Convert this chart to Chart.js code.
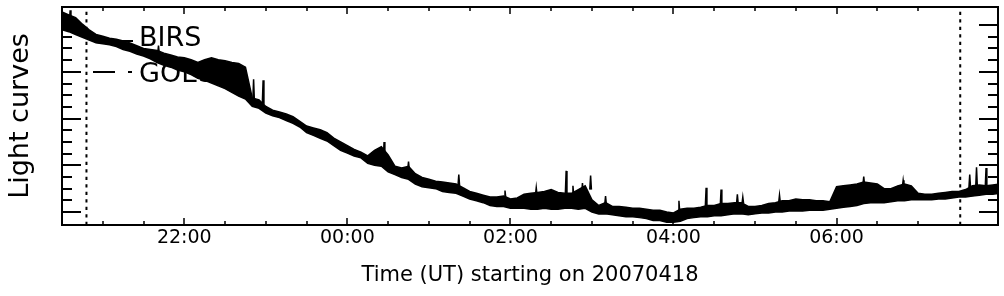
<!DOCTYPE html>
<html>
<head>
<meta charset="utf-8">
<script src="https://cdn.jsdelivr.net/npm/chart.js@4.4.1/dist/chart.umd.min.js"></script>
<style>
  html, body { margin: 0; padding: 0; background: #fff; }
</style>
</head>
<body>
<canvas id="lc" width="1004" height="296"></canvas>
<script>
// sample times, minutes after 20:30 UT on 20070418
const minutes = [0,5,10,15,20,25,30,35,40,45,50,55,60,65,70,75,80,85,90,95,100,105,110,115,120,125,130,135,140,145,150,155,160,165,170,175,180,185,190,195,200,205,210,215,220,225,230,235,240,245,250,255,260,265,270,275,280,285,290,295,300,305,310,315,320,325,330,335,340,345,350,355,360,365,370,375,380,385,390,395,400,405,410,415,420,425,430,435,440,445,450,455,460,465,470,475,480,485,490,495,500,505,510,515,520,525,530,535,540,545,550,555,560,565,570,575,580,585,590,595,600,605,610,615,620,625,630,635,640,645,650,655,660,665,670,675,680,685,690];

// BIRS light curve, upper and lower edge of the noise band (arbitrary units)
const birsHigh = [214,211,208,201,195,190,188,186,185,183,
  181,178,175,174,173,170,168,166,165,163,
  160,163,165,163,162,160,159,155,122,120,
  113,109,107,105,102,97,92,90,88,85,
  79,75,71,67,64,60,66,70,61,49,
  47,49,41,37,35,33,32,31,30,26,
  22,20,18,16,16,17,14,15,19,20,
  21,22,24,21,20,20,24,28,13,7,
  10,6,6,5,4,4,3,2,2,0,
  -1,3,4,4,5,7,7,9,9,10,
  10,6,6,7,9,10,12,12,14,13,
  13,12,12,11,27,28,29,30,32,31,
  30,25,25,28,30,28,20,19,19,20,
  21,22,22,24,28,29,28,29,30];
const birsLow = [195,193,190,187,184,181,180,179,177,174,
  172,169,167,164,160,157,155,152,150,147,
  143,141,138,135,132,128,124,121,113,111,
  106,103,101,98,95,91,85,82,79,76,
  71,66,63,60,58,52,50,49,43,40,
  37,35,30,27,26,25,22,21,20,17,
  14,12,10,7,6,6,4,4,4,3,
  3,4,3,3,4,4,3,4,0,-2,
  -2,-3,-4,-5,-5,-6,-7,-9,-9,-11,
  -11,-10,-7,-6,-5,-5,-4,-4,-3,-2,
  -2,-3,-2,-1,-1,0,0,1,1,1,
  2,2,2,3,4,5,6,7,9,10,
  10,10,11,12,12,13,13,13,13,14,
  14,15,16,16,17,18,19,19,20];

// short spikes on top of the band
const spikeMinutes = [6,71,141,148,237,255,292,326,349,371,376,383,389,400,454,474,485,497,501,528,590,619,668,673,680];
const spikeTop = [216,178,142,141,75,54,40,23,26,44,28,31,39,17,12,26,24,19,16,18,38,34,40,48,47];
const spikeBase = [203,169,118,115,56,45,28,15,18,19,18,20,24,8,0,5,6,9,9,10,29,27,26,27,26];

// dotted time markers
const markerMinutes = [18, 661];

const tickHours = [22, 24, 26, 28, 30];
const tickLabels = ['22:00', '00:00', '02:00', '04:00', '06:00'];
const legendLabels = ['BIRS', 'GOES'];

const startHour = 20.5;
const yMin = -13.9, yMax = 219.4;
const FONT = 'DejaVu Sans';

const hours = m => startHour + m / 60;

const highPts = minutes.map((m, i) => ({ x: hours(m), y: birsHigh[i] }));
const lowPts = minutes.map((m, i) => ({ x: hours(m), y: birsLow[i] }));
const spikePts = [];
spikeMinutes.forEach((m, i) => {
  spikePts.push(
    { x: hours(m - 0.6), y: spikeBase[i] },
    { x: hours(m), y: spikeTop[i] },
    { x: hours(m + 0.6), y: spikeBase[i] },
    { x: hours(m), y: null }
  );
});
const markerSets = markerMinutes.map(m => ({
  data: [{ x: hours(m), y: yMin }, { x: hours(m), y: yMax }],
  borderColor: '#000',
  borderWidth: 2,
  borderDash: [3.3, 4.2],
  pointRadius: 0,
  fill: false
}));

// box, inward ticks on all four sides
const frameTicks = {
  id: 'frameTicks',
  afterDatasetsDraw(chart) {
    const { ctx, chartArea: a, scales: { x, y } } = chart;
    ctx.save();
    ctx.strokeStyle = '#000';
    ctx.lineWidth = 1.5;
    x.ticks.forEach(t => {
      const px = Math.round(x.getPixelForValue(t.value));
      if (px < a.left + 3 || px > a.right - 3) return;
      const len = t.value % 2 === 0 ? 7 : 4;
      ctx.beginPath();
      ctx.moveTo(px, a.bottom); ctx.lineTo(px, a.bottom - len);
      ctx.moveTo(px, a.top); ctx.lineTo(px, a.top + len);
      ctx.stroke();
    });
    ctx.lineWidth = 2;
    y.ticks.forEach(t => {
      const py = Math.round(y.getPixelForValue(t.value));
      if (py < a.top + 3 || py > a.bottom - 3) return;
      const len = t.value % 50 === 0 ? 19 : 10;
      ctx.beginPath();
      ctx.moveTo(a.left, py); ctx.lineTo(a.left + len, py);
      ctx.moveTo(a.right, py); ctx.lineTo(a.right - len, py);
      ctx.stroke();
    });
    ctx.strokeRect(a.left, a.top, a.right - a.left, a.bottom - a.top);
    ctx.restore();
  }
};

// legend written inside the plot, top left
const insideLegend = {
  id: 'insideLegend',
  afterDatasetsDraw(chart) {
    const { ctx, chartArea: a } = chart;
    ctx.save();
    ctx.fillStyle = '#000';
    ctx.strokeStyle = '#000';
    ctx.lineWidth = 2;
    ctx.font = '27px "' + FONT + '"';
    ctx.textBaseline = 'alphabetic';
    ctx.fillText(legendLabels[0], a.left + 77, a.top + 39);
    ctx.fillText(legendLabels[1], a.left + 77, a.top + 75);
    ctx.beginPath();
    ctx.moveTo(a.left + 31, a.top + 34);
    ctx.lineTo(a.left + 71, a.top + 34);
    ctx.stroke();
    ctx.setLineDash([22, 13, 4, 100]);
    ctx.beginPath();
    ctx.moveTo(a.left + 31, a.top + 65);
    ctx.lineTo(a.left + 71, a.top + 65);
    ctx.stroke();
    ctx.restore();
  }
};

new Chart(document.getElementById('lc'), {
  type: 'line',
  data: {
    datasets: [
      {
        data: highPts,
        borderColor: '#000',
        backgroundColor: '#000',
        borderWidth: 1.5,
        pointRadius: 0,
        fill: '+1'
      },
      {
        data: lowPts,
        borderColor: '#000',
        borderWidth: 1.5,
        pointRadius: 0,
        fill: false
      },
      {
        data: spikePts,
        borderColor: '#000',
        borderWidth: 1.5,
        pointRadius: 0,
        spanGaps: false,
        fill: false
      },
      ...markerSets
    ]
  },
  options: {
    responsive: false,
    animation: false,
    devicePixelRatio: 1,
    layout: { padding: { top: 7, right: 6, left: 0, bottom: 0 } },
    elements: { line: { tension: 0 } },
    plugins: {
      legend: { display: false },
      tooltip: { enabled: false }
    },
    scales: {
      x: {
        type: 'linear',
        min: startHour,
        max: 31.98,
        border: { display: false },
        grid: { display: false, drawTicks: false },
        ticks: {
          stepSize: 0.5,
          autoSkip: false,
          maxRotation: 0,
          color: '#000',
          padding: 2,
          font: { family: FONT, size: 19 },
          callback: v => {
            const i = tickHours.indexOf(v);
            return i >= 0 ? tickLabels[i] : '';
          }
        },
        title: {
          display: true,
          text: 'Time (UT) starting on 20070418',
          color: '#000',
          font: { family: FONT, size: 21 },
          padding: { top: 4, bottom: 8 }
        },
        afterFit: s => { s.height = 71; }
      },
      y: {
        min: yMin,
        max: yMax,
        border: { display: false },
        grid: { display: false, drawTicks: false },
        ticks: { display: false, stepSize: 12.5 },
        title: {
          display: true,
          text: 'Light curves',
          color: '#000',
          font: { family: FONT, size: 27 },
          padding: { top: 5, bottom: 0 }
        },
        afterFit: s => { s.width = 62; }
      }
    }
  },
  plugins: [frameTicks, insideLegend]
});
</script>
</body>
</html>
